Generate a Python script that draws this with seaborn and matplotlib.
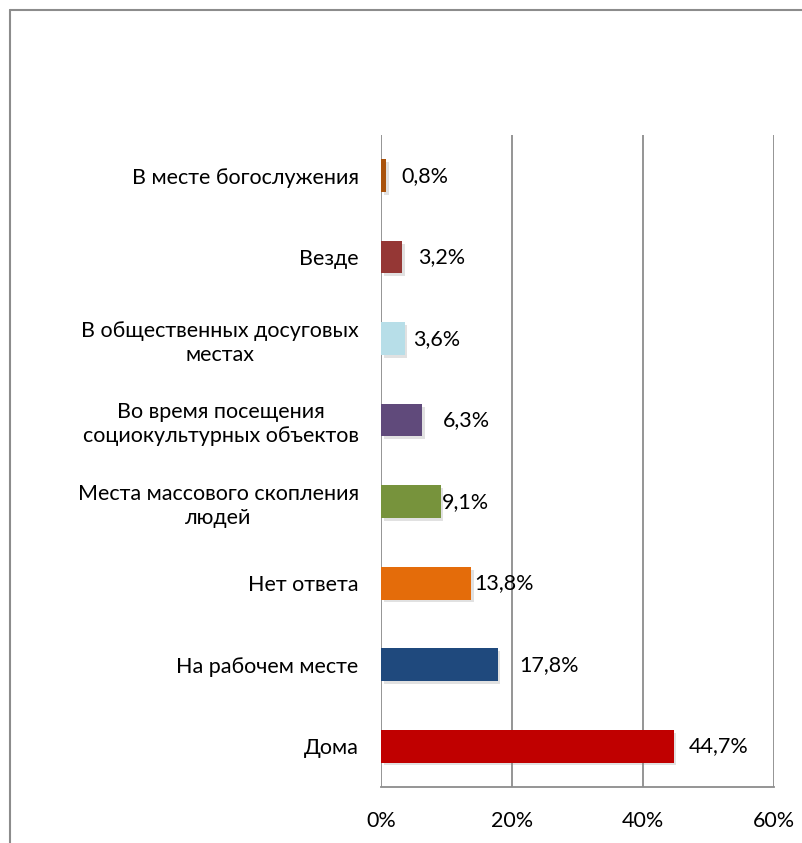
"""Horizontal bar chart: places (survey answers)."""
import matplotlib.pyplot as plt
import matplotlib.patheffects as pe
import pandas as pd
import seaborn as sns
from matplotlib.lines import Line2D

categories = [
    "В месте богослужения",
    "Везде",
    "В общественных досуговых\nместах",
    "Во время посещения\nсоциокультурных объектов",
    "Места массового скопления\nлюдей",
    "Нет ответа",
    "На рабочем месте",
    "Дома",
]
values = [0.8, 3.2, 3.6, 6.3, 9.1, 13.8, 17.8, 44.7]
value_labels = ["0,8%", "3,2%", "3,6%", "6,3%", "9,1%", "13,8%", "17,8%", "44,7%"]
colors = [
    "#A9520C", "#953735", "#B7DEE8", "#604A7B",
    "#77933C", "#E46C0A", "#1F497D", "#C00000",
]
x_ticks = [0, 20, 40, 60]
x_tick_labels = ["0%", "20%", "40%", "60%"]

# label offsets from bar end (points), as in the original layout
label_offsets = [11, 12, 6, 15, 1, 2, 16, 11]

df = pd.DataFrame({"category": categories, "value": values})

sns.set_style("white")
plt.rcParams["font.family"] = ["Lato", "DejaVu Sans"]
FS = 15.5

fig = plt.figure(figsize=(8.02, 8.43), dpi=100)
ax = fig.add_axes([0.475, 0.0664, 0.49, 0.7736])

sns.barplot(
    data=df,
    x="value",
    y="category",
    hue="category",
    palette=colors,
    saturation=1,
    orient="h",
    width=0.4,
    legend=False,
    linewidth=0,
    edgecolor="none",
    ax=ax,
)

# soft drop shadow like the office chart
for patch in ax.patches:
    patch.set_path_effects(
        [pe.SimplePatchShadow(offset=(2, -2), shadow_rgbFace="#888888",
                              alpha=0.25), pe.Normal()]
    )

for i, (v, txt) in enumerate(zip(values, value_labels)):
    ax.annotate(
        txt,
        xy=(v, i),
        xytext=(label_offsets[i], 0),
        textcoords="offset points",
        va="center",
        ha="left",
        fontsize=FS,
        color="black",
    )

ax.set_xlim(0, 60)
ax.set_xticks(x_ticks)
ax.set_xticklabels(x_tick_labels, fontsize=FS)
ax.set_xlabel("")
ax.set_ylabel("")
ax.tick_params(axis="x", length=0, pad=17, colors="black")
ax.tick_params(axis="y", length=0, pad=16, labelsize=FS, colors="black")
for lbl in ax.get_yticklabels():
    lbl.set_multialignment("center")
    lbl.set_linespacing(1.25)

ax.grid(True, axis="x", color="#8C8C8C", linewidth=1.3)
ax.set_axisbelow(True)
for side in ["top", "right", "left"]:
    ax.spines[side].set_visible(False)
ax.spines["bottom"].set_color("#8C8C8C")
ax.spines["bottom"].set_linewidth(1.3)

# outer chart frame (left and top edges)
frame_color = "#8C8C8C"
fig.add_artist(Line2D([10 / 802, 10 / 802], [0, 1 - 10 / 843],
                      transform=fig.transFigure, color=frame_color, lw=1.5))
fig.add_artist(Line2D([10 / 802, 1], [1 - 10 / 843, 1 - 10 / 843],
                      transform=fig.transFigure, color=frame_color, lw=1.5))

fig.savefig("out.png", dpi=100)
